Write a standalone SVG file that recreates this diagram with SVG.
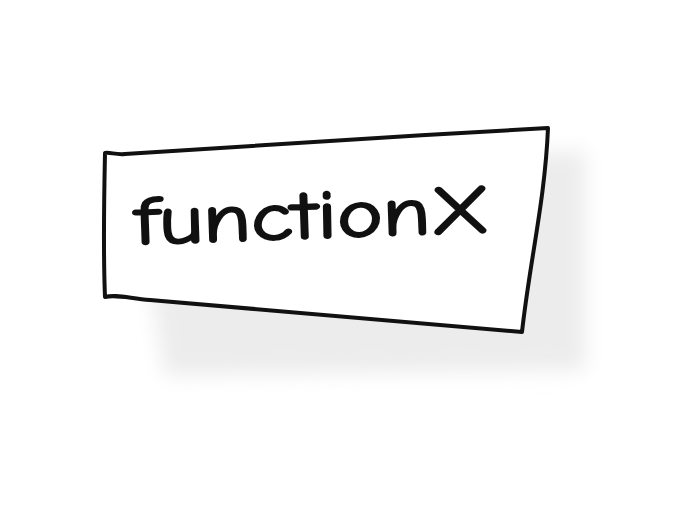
<svg xmlns="http://www.w3.org/2000/svg" width="698" height="510" viewBox="0 0 698 510">
<defs>
<filter id="blur" x="-20%" y="-20%" width="140%" height="140%"><feGaussianBlur stdDeviation="10"/></filter>
<style>
.box{fill:#fff;stroke:#111;stroke-width:4;stroke-linejoin:round;stroke-linecap:round}
.lbl{font-family:"Comic Neue","DejaVu Sans","Liberation Sans",sans-serif;font-size:68px;fill:#111;stroke:#111;stroke-width:2;stroke-linejoin:round}
</style>
</defs>
<rect width="698" height="510" fill="#fff"/>
<path d="M135,190 L585,150 L585,370 L165,375 Z" fill="#ececec" filter="url(#blur)"/>
<g id="functionX">
<path class="box" d="M105,153 C110,152 116,155 125,154 C220,148 400,136 548,128 C545,200 530,260 522,332 C380,320 250,308 150,300 C128,298 115,294 105,297 C103,250 104,200 105,153 Z"/>
<text class="lbl" x="135" y="238" textLength="355" lengthAdjust="spacingAndGlyphs" transform="rotate(-2 315 225)">functionX</text>
</g>
<g id="connectors"/>
</svg>
